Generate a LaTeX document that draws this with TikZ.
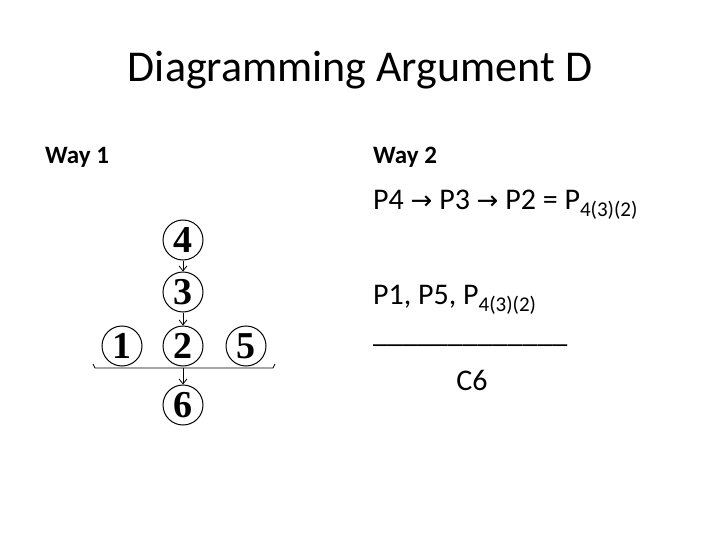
\documentclass[tikz,border=0pt]{standalone}
\usepackage{fontspec}
\usetikzlibrary{calc,arrows.meta}
\setmainfont{Carlito}
\newfontfamily\dv{DejaVu Sans}
\newfontfamily\ser{Liberation Serif}
\begin{document}
\begin{tikzpicture}[x=1pt,y=-1pt,
  num/.style={circle,draw,line width=1pt,minimum size=40pt,inner sep=0pt,font=\ser\fontsize{38}{38}\selectfont\bfseries},
  arr/.style={-{Straight Barb[length=5pt,width=8pt]},line width=0.8pt},
  txt/.style={anchor=west,inner sep=0pt,font=\fontsize{30}{30}\selectfont}]
\useasboundingbox (0,0) rectangle (720,540);
\node (title) at (360,70) {\fontsize{44}{44}\selectfont Diagramming Argument D};
\node[anchor=west,inner sep=0pt,font=\bfseries\fontsize{25}{25}\selectfont] (w1) at (45,157) {Way 1};
\node[anchor=west,inner sep=0pt,font=\bfseries\fontsize{25}{25}\selectfont] (w2) at (373,157) {Way 2};
\node[txt] (l1) at (373,205) {P4 {\dv\fontsize{26}{26}\selectfont→} P3 {\dv\fontsize{26}{26}\selectfont→} P2 = P\textsubscript{4(3)(2)}};
\node[txt] (l2) at (373,300) {P1, P5, P\textsubscript{4(3)(2)}};
\node[txt] (l3) at (373,345) {\_\_\_\_\_\_\_\_\_\_\_\_\_};
\node[font=\fontsize{30}{30}\selectfont] (c6) at (472,380) {C6};
\node[num] (n4) at (183,240) {4};
\node[num] (n3) at (183,292) {3};
\node[num] (n2) at (183,346) {2};
\node[num] (n1) at (122,346) {1};
\node[num] (n5) at (246,346) {5};
\node[num] (n6) at (183,405) {6};
\coordinate (bl) at (93,364);
\coordinate (br) at (275,364);
\coordinate (bm) at (183,368);
\draw[line width=0.8pt] (bl) -- ++(2,4) -- ($(br)+(-2,4)$) -- (br);
\draw[arr] (n4) -- (n3);
\draw[arr] (n3) -- (n2);
\draw[arr] (bm) -- (n6);
\end{tikzpicture}
\end{document}
